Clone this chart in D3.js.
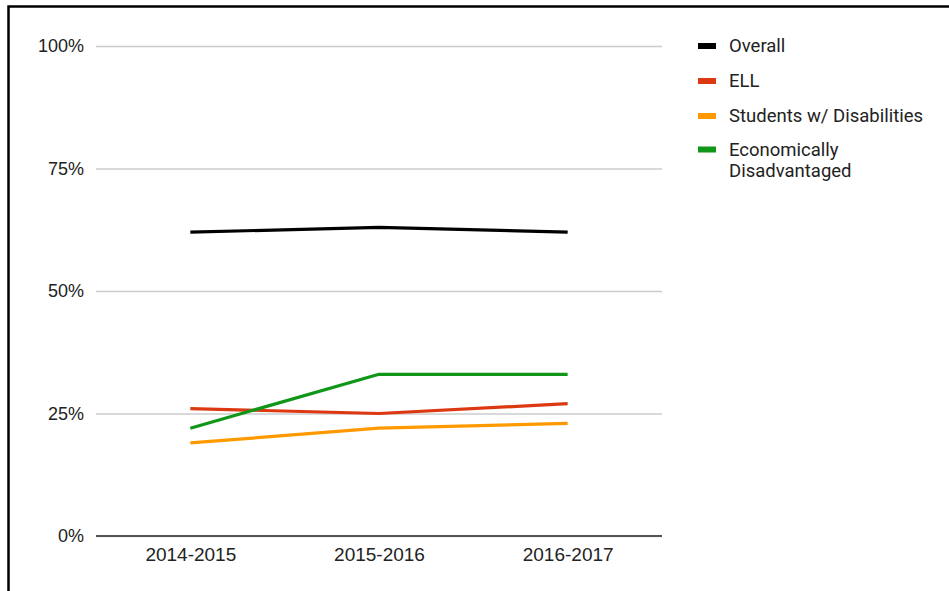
<!DOCTYPE html>
<html>
<head>
<meta charset="utf-8">
<script src="https://cdn.jsdelivr.net/npm/d3@7"></script>
<style>
  body { margin: 0; background: #fff; }
  svg { display: block; font-family: Roboto, Arial, sans-serif; }
</style>
</head>
<body>
<div id="chart"></div>
<script>
(function () {
  'use strict';

  var years = ["2014-2015", "2015-2016", "2016-2017"];
  var overall = [62, 63, 62];
  var ell = [26, 25, 27];
  var disabilities = [19, 22, 23];
  var econDisadvantaged = [22, 33, 33];
  var yTicks = [0, 25, 50, 75, 100];

  var series = [
    { name: ["Overall"], color: "#000000", values: overall },
    { name: ["ELL"], color: "#dc3912", values: ell },
    { name: ["Students w/ Disabilities"], color: "#ff9900", values: disabilities },
    { name: ["Economically", "Disadvantaged"], color: "#109618", values: econDisadvantaged }
  ];

  var width = 949, height = 591;
  var plot = { left: 96, right: 662, top: 46, bottom: 536 };

  var svg = d3.select("#chart").append("svg")
      .attr("width", width)
      .attr("height", height);

  // frame around the chart (cropped on right/bottom)
  svg.append("path")
      .attr("d", "M8.5," + height + "V6.5H" + width)
      .attr("fill", "none")
      .attr("stroke", "#000")
      .attr("stroke-width", 2.5);

  var x = d3.scalePoint()
      .domain(years)
      .range([plot.left, plot.right])
      .padding(0.5);

  var y = d3.scaleLinear()
      .domain([0, 100])
      .range([plot.bottom, plot.top]);

  // gridlines + y labels
  var yAxis = d3.axisLeft(y)
      .tickValues(yTicks)
      .tickSize(-(plot.right - plot.left))
      .tickPadding(12)
      .tickFormat(function(d) { return d + "%"; });

  var gy = svg.append("g")
      .attr("transform", "translate(" + plot.left + ",0)")
      .call(yAxis);
  gy.select(".domain").remove();
  gy.selectAll(".tick line")
      .attr("stroke", "#cccccc")
      .attr("stroke-width", 1.3);
  gy.selectAll(".tick text")
      .attr("fill", "#222")
      .style("font-size", "18px");

  // baseline
  svg.append("line")
      .attr("x1", plot.left).attr("x2", plot.right)
      .attr("y1", y(0)).attr("y2", y(0))
      .attr("stroke", "#555")
      .attr("stroke-width", 2);

  // x labels
  var xAxis = d3.axisBottom(x).tickSize(0).tickPadding(11.5);
  var gx = svg.append("g")
      .attr("transform", "translate(0," + y(0) + ")")
      .call(xAxis);
  gx.select(".domain").remove();
  gx.selectAll(".tick text")
      .attr("fill", "#222")
      .style("font-size", "19px");

  // lines
  var line = d3.line()
      .x(function(d, i) { return x(years[i]); })
      .y(function(d) { return y(d); });

  svg.selectAll(".series")
      .data(series)
      .enter().append("path")
      .attr("class", "series")
      .attr("d", function(d) { return line(d.values); })
      .attr("fill", "none")
      .attr("stroke", function(d) { return d.color; })
      .attr("stroke-width", 3.2)
      .attr("stroke-linejoin", "round");

  // legend
  var legendY = [46, 81, 116, 149.5];
  var legend = svg.selectAll(".legend")
      .data(series)
      .enter().append("g")
      .attr("class", "legend")
      .attr("transform", function(d, i) { return "translate(698," + legendY[i] + ")"; });

  legend.append("rect")
      .attr("x", 0).attr("y", -3)
      .attr("width", 18).attr("height", 6)
      .attr("fill", function(d) { return d.color; });

  // one text per line so wrapped names stay apart
  legend.selectAll("text")
      .data(function(d) { return d.name; })
      .enter().append("text")
      .attr("x", 31)
      .attr("y", function(d, i) { return i * 21.5 - (i > 0 ? 0 : 0); })
      .attr("dy", "0.35em")
      .attr("fill", "#222")
      .style("font-size", "18.5px")
      .text(function(d) { return d; });
}());
</script>
</body>
</html>
